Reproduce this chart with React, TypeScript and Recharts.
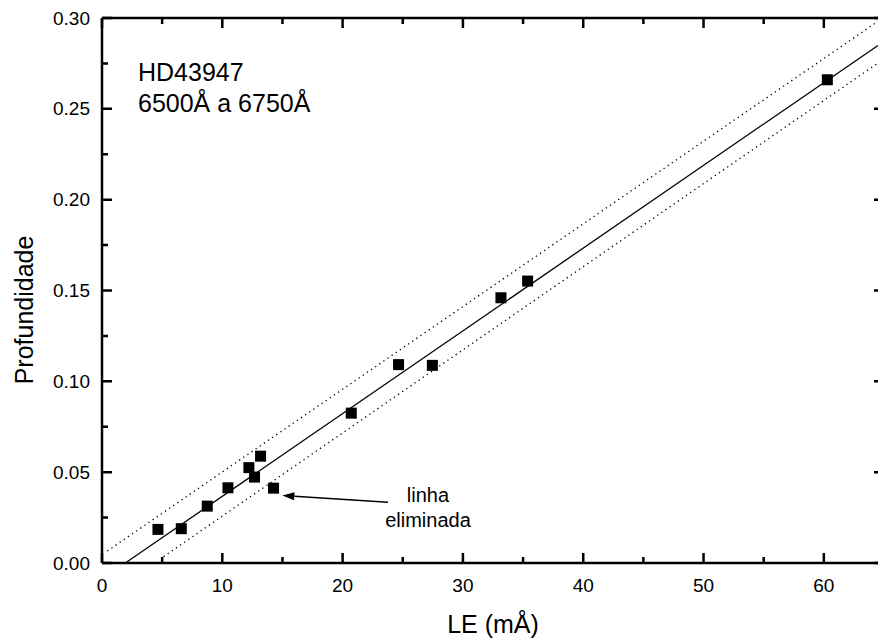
import { ScatterChart, Scatter, XAxis, YAxis, ReferenceLine } from 'recharts';

// LE (mÅ) vs depth
const le = [4.65, 6.59, 8.75, 10.47, 12.21, 12.68, 13.18, 14.26, 20.72, 24.65, 27.46, 33.16, 35.38, 60.29];
const prof = [0.0185, 0.0189, 0.0313, 0.0414, 0.0525, 0.0473, 0.0588, 0.0412, 0.0825, 0.1092, 0.1088, 0.146, 0.1552, 0.266];

// linear fit and the dotted band, endpoints as seen in the plot
const fitLine = [{ x: 1.94, y: 0 }, { x: 64.5, y: 0.2849 }];
const upperBand = [{ x: 0.44, y: 0.0066 }, { x: 64.5, y: 0.2982 }];
const lowerBand = [{ x: 5.12, y: 0.0035 }, { x: 64.5, y: 0.2752 }];
const arrow = [{ x: 23.77, y: 0.0335 }, { x: 14.99, y: 0.0372 }];

const xTicks = [0, 5, 10, 15, 20, 25, 30, 35, 40, 45, 50, 55, 60];
const xLabels = [0, 10, 20, 30, 40, 50, 60];
const yTicks = [0, 0.025, 0.05, 0.075, 0.1, 0.125, 0.15, 0.175, 0.2, 0.225, 0.25, 0.275, 0.3];

const font = '"Liberation Sans", Arial, sans-serif';
const points = le.map((x, i) => ({ x, y: prof[i] }));

const isMajorY = (v: number) => Math.round(v * 1000) % 50 === 0;

const XLabel = ({ x, y, payload }: any) =>
    xLabels.includes(payload.value) ? (
        <text x={x} y={y + 28.5} textAnchor="middle" fontSize={19} fontFamily={font} fill="#000">
            {payload.value}
        </text>
    ) : <g />;

const YLabel = ({ x, y, payload }: any) =>
    isMajorY(payload.value) ? (
        <text x={x - 12} y={y + 6.5} textAnchor="end" fontSize={19} fontFamily={font} fill="#000">
            {payload.value.toFixed(2)}
        </text>
    ) : <g />;

// inward tick marks on both ends of a frame-spanning reference line
const VTick = (len: number) => ({ x1, y1, x2, y2 }: any) => {
    const top = Math.min(y1, y2);
    const bot = Math.max(y1, y2);
    return <path d={`M${x1},${bot}V${bot - len}M${x1},${top}V${top + len}`} stroke="#000" strokeWidth={2.5} fill="none" />;
};
const HTick = (len: number) => ({ x1, y1, x2, y2 }: any) => {
    const l = Math.min(x1, x2);
    const r = Math.max(x1, x2);
    return <path d={`M${l},${y1}H${l + len}M${r},${y1}H${r - len}`} stroke="#000" strokeWidth={2.5} fill="none" />;
};
const majorV = VTick(10);
const minorV = VTick(6);
const majorH = HTick(10);
const minorH = HTick(6);

const Square = ({ cx, cy }: any) => <rect x={cx - 5.5} y={cy - 5.5} width={11} height={11} fill="#000" />;

const ArrowShape = ({ x1, y1, x2, y2 }: any) => {
    const a = Math.atan2(y2 - y1, x2 - x1);
    const len = 12;
    const w = 4;
    const bx = x2 - len * Math.cos(a);
    const by = y2 - len * Math.sin(a);
    const px = -Math.sin(a) * w;
    const py = Math.cos(a) * w;
    return (
        <g>
            <line x1={x1} y1={y1} x2={bx} y2={by} stroke="#000" strokeWidth={1.5} />
            <polygon points={`${x2},${y2} ${bx + px},${by + py} ${bx - px},${by - py}`} fill="#000" />
        </g>
    );
};

export default function App() {
    return (
        <div style={{ position: 'absolute', left: 0, top: 0, width: 878, height: 639, overflow: 'hidden', background: '#fff' }}>
            <ScatterChart width={900} height={639} margin={{ top: 0, right: 0, bottom: 0, left: 0 }}>
                <XAxis
                    type="number"
                    dataKey="x"
                    domain={[0, 65]}
                    ticks={xTicks}
                    interval={0}
                    height={76}
                    tickSize={0}
                    tickMargin={0}
                    tickLine={false}
                    tick={<XLabel />}
                    axisLine={{ stroke: '#000', strokeWidth: 2.5 }}
                />
                <XAxis
                    xAxisId="t"
                    orientation="top"
                    type="number"
                    domain={[0, 65]}
                    height={18}
                    tick={false}
                    tickLine={false}
                    axisLine={{ stroke: '#000', strokeWidth: 2.5 }}
                />
                <YAxis
                    type="number"
                    dataKey="y"
                    domain={[0, 0.3]}
                    ticks={yTicks}
                    interval={0}
                    width={102}
                    tickSize={0}
                    tickMargin={0}
                    tickLine={false}
                    tick={<YLabel />}
                    axisLine={{ stroke: '#000', strokeWidth: 2.5 }}
                />
                <YAxis
                    yAxisId="r"
                    orientation="right"
                    type="number"
                    domain={[0, 0.3]}
                    width={16}
                    tick={false}
                    tickLine={false}
                    axisLine={{ stroke: '#000', strokeWidth: 2.5 }}
                />
                {xTicks.map((v) => (
                    <ReferenceLine key={`vx${v}`} x={v} ifOverflow="visible" shape={xLabels.includes(v) ? majorV : minorV} />
                ))}
                {yTicks.map((v) => (
                    <ReferenceLine key={`hy${v}`} y={v} ifOverflow="visible" shape={isMajorY(v) ? majorH : minorH} />
                ))}
                <ReferenceLine segment={upperBand} stroke="#000" strokeWidth={1.3} strokeDasharray="1.3 3.7" ifOverflow="visible" />
                <ReferenceLine segment={lowerBand} stroke="#000" strokeWidth={1.3} strokeDasharray="1.3 3.7" ifOverflow="visible" />
                <ReferenceLine segment={fitLine} stroke="#000" strokeWidth={1.3} ifOverflow="visible" />
                <ReferenceLine segment={arrow} shape={<ArrowShape />} ifOverflow="visible" />
                <Scatter data={points} shape={<Square />} isAnimationActive={false} />
            </ScatterChart>
            <svg width={878} height={639} style={{ position: 'absolute', left: 0, top: 0, pointerEvents: 'none' }}>
                <g fontFamily={font} fill="#000">
                    <text x={138} y={81} fontSize={25}>HD43947</text>
                    <text x={138} y={112} fontSize={25}>6500Å a 6750Å</text>
                    <text x={428} y={501.5} fontSize={20} textAnchor="middle">linha</text>
                    <text x={428} y={526.5} fontSize={20} textAnchor="middle">eliminada</text>
                    <text x={493} y={633} fontSize={25} textAnchor="middle">LE (mÅ)</text>
                    <text x={33} y={310} fontSize={25} textAnchor="middle" transform="rotate(-90 33 310)">Profundidade</text>
                </g>
            </svg>
        </div>
    );
}
